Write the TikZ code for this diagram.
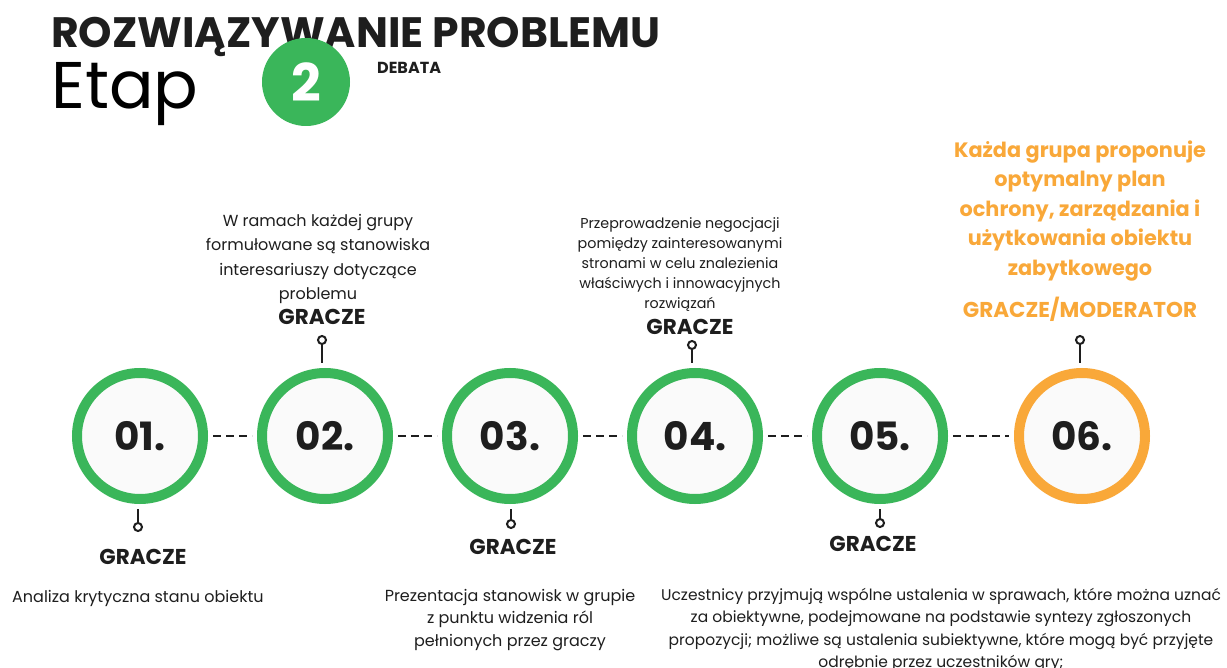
\documentclass[tikz,border=0pt]{standalone}
\usepackage{fontspec}
\setmainfont{Poppins}
\definecolor{grn}{HTML}{3AB65A}
\definecolor{org}{HTML}{F9A839}
\definecolor{ink}{HTML}{1E1E1E}
\definecolor{ringfill}{HTML}{FAFAFA}
\tikzset{
  x=1pt,y=-1pt,
  ring/.style={circle,minimum size=126pt,line width=10pt,fill=ringfill,inner sep=0pt,
    font=\bfseries\fontsize{39}{39}\selectfont,text=ink},
  gring/.style={ring,draw=grn},
  oring/.style={ring,draw=org},
  link/.style={line width=2.5pt,ink,dash pattern=on 8pt off 5pt},
  stem/.style={line width=2.5pt,ink},
  pin/.style={circle,draw=ink,line width=2pt,fill=white,minimum size=8pt,inner sep=0pt},
  who/.style={font=\bfseries\fontsize{21.5}{21.5}\selectfont,text=ink},
  body/.style={align=center,text=ink,font=\fontsize{16}{24.5}\selectfont},
}
\begin{document}
\begin{tikzpicture}
\useasboundingbox[fill=white] (0,0) rectangle (1227,668);
% header
\node[anchor=west,inner sep=0pt,text=ink,font=\bfseries\fontsize{42.5}{42.5}\selectfont] (title) at (51,37) {ROZWIĄZYWANIE PROBLEMU};
\node[anchor=west,inner sep=0pt,text=black,font=\fontsize{66}{66}\selectfont] (etap) at (51,94) {Etap};
\node[circle,fill=grn,minimum size=88pt,inner sep=0pt,text=white,font=\bfseries\fontsize{52}{52}\selectfont] (two) at (306,82) {2};
\node[anchor=west,inner sep=0pt,text=ink,font=\bfseries\fontsize{16}{16}\selectfont] (deb) at (377,68) {DEBATA};
% rings
\node[gring] (c1) at (140,436) {01.};
\node[gring] (c2) at (325,436) {02.};
\node[gring] (c3) at (510,436) {03.};
\node[gring] (c4) at (695,436) {04.};
\node[gring] (c5) at (880,436) {05.};
\node[oring] (c6) at (1082,436) {06.};
\foreach \a/\b in {c1/c2,c2/c3,c3/c4,c4/c5,c5/c6}
  \draw[link] ([xshift=5pt]\a.east) -- ([xshift=-5pt]\b.west);
% pins
\node[pin] (p1) at (138,527) {};
\node[pin] (p2) at (322,340) {};
\node[pin] (p3) at (511,524) {};
\node[pin] (p4) at (692,345) {};
\node[pin] (p5) at (880,523) {};
\node[pin] (p6) at (1080,340) {};
\draw[stem] ([yshift=-5pt]c1.south -| p1) -- (p1);
\draw[stem] (p2) -- ([yshift=5pt]c2.north -| p2);
\draw[stem] ([yshift=-5pt]c3.south -| p3) -- (p3);
\draw[stem] (p4) -- ([yshift=5pt]c4.north -| p4);
\draw[stem] ([yshift=-5pt]c5.south -| p5) -- (p5);
\draw[stem] (p6) -- ([yshift=5pt]c6.north -| p6);
% GRACZE labels
\node[who] (g1) at (143,557) {GRACZE};
\node[who] (g2) at (322,317) {GRACZE};
\node[who] (g3) at (513,547) {GRACZE};
\node[who] (g4) at (690,327) {GRACZE};
\node[who] (g5) at (873,544) {GRACZE};
\node[who,text=org] (g6) at (1080,309) {GRACZE/MODERATOR};
% texts
\node[body] (t2) at (318,259) {W ramach każdej grupy\\formułowane są stanowiska\\interesariuszy dotyczące\\problemu};
\node[body,font=\fontsize{14.3}{20}\selectfont] (t4) at (680,265) {Przeprowadzenie negocjacji\\pomiędzy zainteresowanymi\\stronami w celu znalezienia\\właściwych i innowacyjnych\\rozwiązań};
\node[body,text=org,font=\bfseries\fontsize{20.8}{29.5}\selectfont] (t6) at (1080,211) {Każda grupa proponuje\\optymalny plan\\ochrony, zarządzania i\\użytkowania obiektu\\zabytkowego};
\node[body,anchor=west,inner sep=0pt] (t1) at (12,598) {Analiza krytyczna stanu obiektu};
\node[body,font=\fontsize{16}{22.5}\selectfont] (t3) at (510,620) {Prezentacja stanowisk w grupie\\z punktu widzenia ról\\pełnionych przez graczy};
\node[body,font=\fontsize{15.5}{22.5}\selectfont] (t5) at (941,630) {Uczestnicy przyjmują wspólne ustalenia w sprawach, które można uznać\\za obiektywne, podejmowane na podstawie syntezy zgłoszonych\\propozycji; możliwe są ustalenia subiektywne, które mogą być przyjęte\\odrębnie przez uczestników gry;};
\end{tikzpicture}
\end{document}
